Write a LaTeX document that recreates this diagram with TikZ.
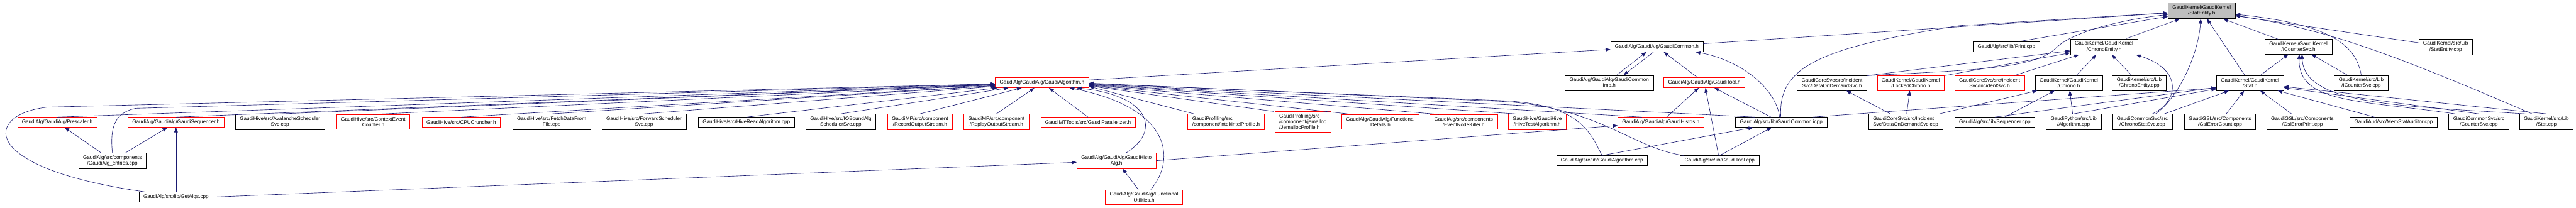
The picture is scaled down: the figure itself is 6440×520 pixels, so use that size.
\documentclass[tikz,border=0pt]{standalone}
\usepackage{fontspec}
\setmainfont{Liberation Sans}
\usetikzlibrary{arrows.meta}
\definecolor{edgeblue}{HTML}{191970}
\definecolor{rootgray}{HTML}{BFBFBF}

\begin{document}
\begin{tikzpicture}[x=1pt,y=-1pt,
    file/.style={draw=black, fill=white, line width=1pt, inner xsep=11pt, inner ysep=6.5pt,
      minimum height=25pt, align=center, font=\fontsize{12.8}{14.3}\selectfont},
    trunc/.style={file, draw=red},
    root/.style={file, fill=rootgray},
    incl/.style={edgeblue, line width=1pt, -{Triangle[length=12pt,width=9pt]}}]
  \useasboundingbox (0,0) rectangle (6440,520);

  % Root
  \node[root] (StatEntityH) at (5504,27) {GaudiKernel/GaudiKernel\\/StatEntity.h};

  % Row 1
  \node[file] (GaudiCommonH) at (4142,117) {GaudiAlg/GaudiAlg/GaudiCommon.h};
  \node[file] (PrintCpp) at (5016,117) {GaudiAlg/src/lib/Print.cpp};
  \node[file] (ChronoEntityH) at (5260,117) {GaudiKernel/GaudiKernel\\/ChronoEntity.h};
  \node[file] (ICounterSvcH) at (5746,117) {GaudiKernel/GaudiKernel\\/ICounterSvc.h};
  \node[file] (StatEntityCpp) at (6114,117) {GaudiKernel/src/Lib\\/StatEntity.cpp};

  % Row 2
  \node[trunc] (GaudiAlgorithmH) at (2605,207) {GaudiAlg/GaudiAlg/GaudiAlgorithm.h};
  \node[file] (GaudiCommonImpH) at (4023,208) {GaudiAlg/GaudiAlg/GaudiCommon\\Imp.h};
  \node[trunc] (GaudiToolH) at (4261,207) {GaudiAlg/GaudiAlg/GaudiTool.h};
  \node[file] (DataOnDemandSvcH) at (4580,208) {GaudiCoreSvc/src/Incident\\Svc/DataOnDemandSvc.h};
  \node[trunc] (LockedChronoH) at (4777,208) {GaudiKernel/GaudiKernel\\/LockedChrono.h};
  \node[trunc] (IncidentSvcH) at (4974,208) {GaudiCoreSvc/src/Incident\\Svc/IncidentSvc.h};
  \node[file] (ChronoH) at (5172,208) {GaudiKernel/GaudiKernel\\/Chrono.h};
  \node[file] (ChronoEntityCpp) at (5348,208) {GaudiKernel/src/Lib\\/ChronoEntity.cpp};
  \node[file] (StatH) at (5625,208) {GaudiKernel/GaudiKernel\\/Stat.h};
  \node[file] (ICounterSvcCpp) at (5903,208) {GaudiKernel/src/Lib\\/ICounterSvc.cpp};

  % Row 3
  \node[trunc] (Prescaler) at (143,306) {GaudiAlg/GaudiAlg/Prescaler.h};
  \node[trunc] (GaudiSequencer) at (440,306) {GaudiAlg/GaudiAlg/GaudiSequencer.h};
  \node[file] (AvalancheSvc) at (700,305) {GaudiHive/src/AvalancheScheduler\\Svc.cpp};
  \node[trunc] (ContextEventCounter) at (933,305) {GaudiHive/src/ContextEvent\\Counter.h};
  \node[trunc] (CPUCruncher) at (1153,306) {GaudiHive/src/CPUCruncher.h};
  \node[file] (FetchDataFromFile) at (1379,305) {GaudiHive/src/FetchDataFrom\\File.cpp};
  \node[file] (ForwardSchedulerSvc) at (1610,305) {GaudiHive/src/ForwardScheduler\\Svc.cpp};
  \node[file] (HiveReadAlgorithm) at (1866,306) {GaudiHive/src/HiveReadAlgorithm.cpp};
  \node[file] (IOBoundAlgSvc) at (2102,305) {GaudiHive/src/IOBoundAlg\\SchedulerSvc.cpp};
  \node[trunc] (RecordOutputStream) at (2300,305) {GaudiMP/src/component\\/RecordOutputStream.h};
  \node[trunc] (ReplayOutputStream) at (2491,305) {GaudiMP/src/component\\/ReplayOutputStream.h};
  \node[trunc] (GaudiParallelizer) at (2720,306) {GaudiMTTools/src/GaudiParallelizer.h};
  \node[trunc, align=left] (IntelProfile) at (3065,305) {GaudiProfiling/src\\/component/intel/IntelProfile.h};
  \node[trunc, align=left] (JemallocProfile) at (3257,305) {GaudiProfiling/src\\/component/jemalloc\\/JemallocProfile.h};
  \node[trunc] (FunctionalDetails) at (3451,305) {GaudiAlg/GaudiAlg/Functional\\Details.h};
  \node[trunc] (EventNodeKiller) at (3659,305) {GaudiAlg/src/components\\/EventNodeKiller.h};
  \node[trunc] (HiveTestAlgorithm) at (3843,305) {GaudiHive/GaudiHive\\/HiveTestAlgorithm.h};
  \node[trunc] (GaudiHistosH) at (4152,306) {GaudiAlg/GaudiAlg/GaudiHistos.h};
  \node[file] (GaudiCommonIcpp) at (4453,306) {GaudiAlg/src/lib/GaudiCommon.icpp};
  \node[file, align=left] (DataOnDemandSvcCpp) at (4764,305) {GaudiCoreSvc/src/Incident\\Svc/DataOnDemandSvc.cpp};
  \node[file] (SequencerCpp) at (4987,306) {GaudiAlg/src/lib/Sequencer.cpp};
  \node[file] (AlgorithmCpp) at (5184,305) {GaudiPython/src/Lib\\/Algorithm.cpp};
  \node[file] (ChronoStatSvcCpp) at (5356,305) {GaudiCommonSvc/src\\/ChronoStatSvc.cpp};
  \node[file] (GslErrorCount) at (5550,305) {GaudiGSL/src/Components\\/GslErrorCount.cpp};
  \node[file] (GslErrorPrint) at (5756,305) {GaudiGSL/src/Components\\/GslErrorPrint.cpp};
  \node[file] (MemStatAuditor) at (5984,306) {GaudiAud/src/MemStatAuditor.cpp};
  \node[file] (CounterSvcCpp) at (6197,305) {GaudiCommonSvc/src\\/CounterSvc.cpp};
  \node[file] (StatCpp) at (6366,305) {GaudiKernel/src/Lib\\/Stat.cpp};

  % Row 4
  \node[file] (GaudiAlgEntries) at (281,402) {GaudiAlg/src/components\\/GaudiAlg\_entries.cpp};
  \node[trunc] (GaudiHistoAlgH) at (2791,402) {GaudiAlg/GaudiAlg/GaudiHisto\\Alg.h};
  \node[file] (GaudiAlgorithmCpp) at (4005,402) {GaudiAlg/src/lib/GaudiAlgorithm.cpp};
  \node[file] (GaudiToolCpp) at (4299,402) {GaudiAlg/src/lib/GaudiTool.cpp};

  % Row 5
  \node[file] (GetAlgs) at (440,493) {GaudiAlg/src/lib/GetAlgs.cpp};
  \node[trunc] (FunctionalUtilities) at (2860,493) {GaudiAlg/GaudiAlg/Functional\\Utilities.h};

  % Edges into GaudiAlgorithm.h, from the left
  \draw[incl] (Prescaler.north) -- (GaudiAlgorithmH);
  \draw[incl] (GaudiSequencer.north) -- (GaudiAlgorithmH);
  \draw[incl] (GaudiAlgEntries.north) .. controls (275,320) and (285,282) .. (340,271) -- (GaudiAlgorithmH);
  \draw[incl] ([xshift=-78pt]GetAlgs.north) .. controls (-60,420) and (-40,285) .. (120,268) -- (GaudiAlgorithmH);
  \draw[incl] (AvalancheSvc.north) -- (GaudiAlgorithmH);
  \draw[incl] (ContextEventCounter.north) -- (GaudiAlgorithmH);
  \draw[incl] (CPUCruncher.north) -- (GaudiAlgorithmH);
  \draw[incl] (FetchDataFromFile.north) -- (GaudiAlgorithmH);
  \draw[incl] (ForwardSchedulerSvc.north) -- (GaudiAlgorithmH);
  \draw[incl] (HiveReadAlgorithm.north) -- (GaudiAlgorithmH);
  \draw[incl] (IOBoundAlgSvc.north) -- (GaudiAlgorithmH);
  \draw[incl] (RecordOutputStream.north) -- (GaudiAlgorithmH);
  \draw[incl] (ReplayOutputStream.north) -- (GaudiAlgorithmH);
  \draw[incl] (GaudiParallelizer.north) -- (GaudiAlgorithmH);
  \draw[incl] ([xshift=25pt]GaudiHistoAlgH.north) .. controls (2900,330) and (2880,240) .. ([xshift=87pt]GaudiAlgorithmH.south);
  \draw[incl] ([xshift=17pt]FunctionalUtilities.north) .. controls (2940,400) and (2930,270) .. ([xshift=69pt]GaudiAlgorithmH.south);

  % Edges into GaudiAlgorithm.h, from the right
  \draw[incl] ([xshift=-80pt]IntelProfile.north) -- ([yshift=-9pt]GaudiAlgorithmH.east);
  \draw[incl] ([xshift=-72pt]JemallocProfile.north) -- ([yshift=-8pt]GaudiAlgorithmH.east);
  \draw[incl] ([xshift=-70pt]FunctionalDetails.north) -- ([yshift=-7pt]GaudiAlgorithmH.east);
  \draw[incl] ([xshift=-62pt]EventNodeKiller.north) -- ([yshift=-6pt]GaudiAlgorithmH.east);
  \draw[incl] ([xshift=-55pt]HiveTestAlgorithm.north) -- ([yshift=-5pt]GaudiAlgorithmH.east);
  \draw[incl] ([xshift=-47pt]GaudiHistosH.north) -- ([yshift=-4pt]GaudiAlgorithmH.east);
  \draw[incl] ([xshift=-65pt]GaudiCommonIcpp.north) -- ([yshift=-3pt]GaudiAlgorithmH.east);
  \draw[incl] (GaudiAlgorithmCpp.north) .. controls (3975,330) and (3950,262) .. (3760,252) -- ([yshift=-2pt]GaudiAlgorithmH.east);
  \draw[incl] ([xshift=-90pt]GaudiToolCpp.north) .. controls (4080,370) and (4000,270) .. (3760,254) -- ([yshift=-1pt]GaudiAlgorithmH.east);

  % Left group
  \draw[incl] (GaudiAlgEntries) -- (Prescaler);
  \draw[incl] (GaudiAlgEntries) -- (GaudiSequencer);
  \draw[incl] (GetAlgs) -- (GaudiSequencer);
  \draw[incl] (GetAlgs.east) -- (GaudiHistoAlgH);
  \draw[incl] (FunctionalUtilities) -- (GaudiHistoAlgH);
  \draw[incl] (GaudiHistoAlgH.east) -- (GaudiHistosH);

  % GaudiCommon / GaudiTool group
  \draw[incl] (GaudiAlgorithmH) -- (GaudiCommonH);
  \draw[incl] ([xshift=19pt]GaudiCommonImpH.north) -- ([xshift=-26pt]GaudiCommonH.south);
  \draw[incl] ([xshift=-8pt]GaudiCommonH.south) -- ([xshift=36pt]GaudiCommonImpH.north);
  \draw[incl] (GaudiToolH) -- (GaudiCommonH);
  \draw[incl] ([xshift=-4pt]GaudiCommonIcpp.north) .. controls (4440,220) and (4350,150) .. ([xshift=97pt]GaudiCommonH.south);
  \draw[incl] (GaudiHistosH) -- (GaudiToolH);
  \draw[incl] (GaudiToolCpp) -- (GaudiToolH);
  \draw[incl] (GaudiCommonIcpp) -- (GaudiToolH);
  \draw[incl] (GaudiAlgorithmCpp.north) -- (GaudiCommonIcpp);
  \draw[incl] (GaudiToolCpp.north) -- (GaudiCommonIcpp);
  \draw[incl] ([xshift=78pt]GaudiCommonIcpp.north) -- ([yshift=-12pt]StatH.west);

  % Chrono group
  \draw[incl] (DataOnDemandSvcCpp) -- (DataOnDemandSvcH);
  \draw[incl] (DataOnDemandSvcCpp) -- (LockedChronoH);
  \draw[incl] (DataOnDemandSvcCpp) -- (ChronoH);
  \draw[incl] (DataOnDemandSvcH.north east) -- (ChronoEntityH);
  \draw[incl] (LockedChronoH.north east) -- (ChronoEntityH);
  \draw[incl] ([xshift=61pt]IncidentSvcH.north) -- (ChronoEntityH);
  \draw[incl] (ChronoH) -- (ChronoEntityH);
  \draw[incl] (ChronoEntityCpp) -- (ChronoEntityH);
  \draw[incl] ([xshift=25pt]ChronoStatSvcCpp.north) .. controls (5445,255) and (5460,175) .. ([xshift=80pt]ChronoEntityH.south);
  \draw[incl] (SequencerCpp) -- (ChronoH);
  \draw[incl] (AlgorithmCpp) -- (ChronoH);

  % Stat group
  \draw[incl] (SequencerCpp.north) -- (StatH);
  \draw[incl] (AlgorithmCpp.north) -- (StatH);
  \draw[incl] ([xshift=55pt]ChronoStatSvcCpp.north) -- (StatH);
  \draw[incl] (GslErrorCount) -- (StatH);
  \draw[incl] (GslErrorPrint) -- (StatH);
  \draw[incl] (MemStatAuditor) -- (StatH);
  \draw[incl] (CounterSvcCpp.north) -- (StatH);
  \draw[incl] (StatCpp.north) -- (StatH);
  \draw[incl] (StatH) -- (ICounterSvcH);
  \draw[incl] (ICounterSvcCpp) -- (ICounterSvcH);
  \draw[incl] ([xshift=-59pt]CounterSvcCpp.north) .. controls (5900,250) and (5745,260) .. ([xshift=2pt]ICounterSvcH.south);
  \draw[incl] ([xshift=-53pt]StatCpp.north) .. controls (6000,265) and (5760,262) .. ([xshift=9pt]ICounterSvcH.south);

  % Edges into StatEntity.h
  \draw[incl] (GaudiCommonH) -- (StatEntityH);
  \draw[incl] ([xshift=-1pt]GaudiCommonIcpp.north) .. controls (4445,170) and (4540,120) .. (4900,64) -- (StatEntityH);
  \draw[incl] (DataOnDemandSvcH.north east) .. controls (4950,175) and (5090,170) .. (5140,120) .. controls (5180,80) and (5300,50) .. (StatEntityH);
  \draw[incl] ([xshift=30pt]PrintCpp.north) -- (StatEntityH);
  \draw[incl] (ChronoEntityH) -- (StatEntityH);
  \draw[incl] ([xshift=33pt]ChronoStatSvcCpp.north) .. controls (5445,245) and (5495,140) .. ([xshift=-2pt]StatEntityH.south);
  \draw[incl] (StatH) -- (StatEntityH);
  \draw[incl] (ICounterSvcH) -- (StatEntityH);
  \draw[incl] (ICounterSvcCpp.north) .. controls (5890,110) and (5820,60) .. (StatEntityH);
  \draw[incl] (StatEntityCpp) -- (StatEntityH);
  \draw[incl] ([xshift=-36pt]StatCpp.north) .. controls (5960,125) and (5800,70) .. (StatEntityH);
\end{tikzpicture}
\end{document}
